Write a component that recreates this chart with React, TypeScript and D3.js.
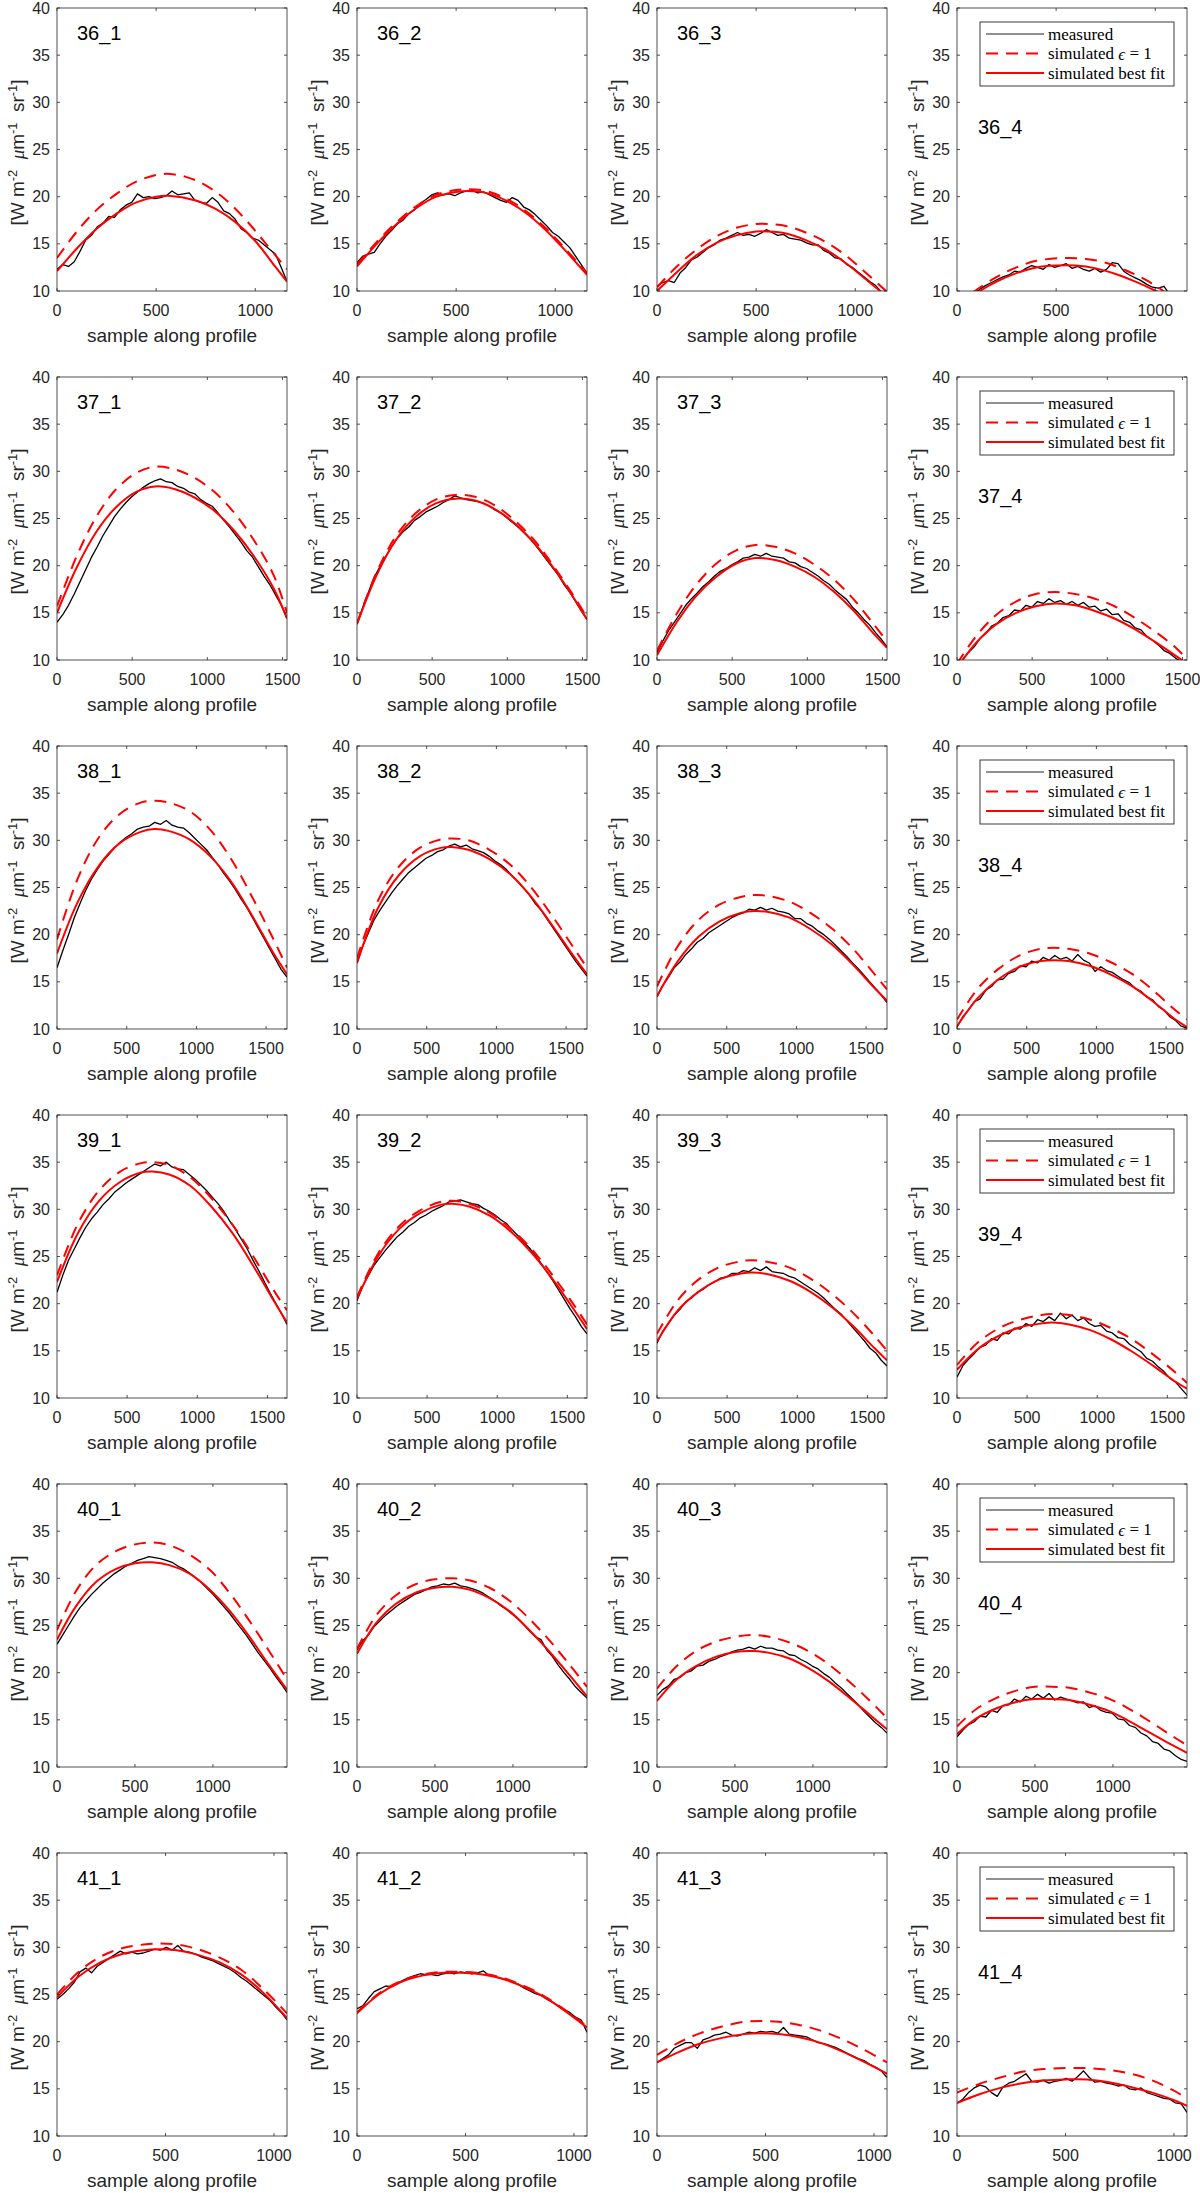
import * as d3 from 'd3';

type Pt = [number, number];

// profile ids (rows) and sample count along each profile
const rowIds = ['36', '37', '38', '39', '40', '41'];
const rowXMax = [1160, 1530, 1650, 1640, 1475, 1060];
const xTicks = [0, 500, 1000, 1500];
const yTicks = [10, 15, 20, 25, 30, 35, 40];
const MEAS_STEPS = 40; // measured values are given at 41 evenly spaced samples

// ---- row 36 ----
const meas36 = [
  [12.3, 12.8, 12.6, 13.1, 14.2, 15.4, 15.9, 16.8, 17.2, 17.9, 17.8, 18.6, 19.1, 19.4, 20.3, 19.9, 20.0, 19.8, 19.9, 20.1, 20.6, 20.2, 20.3, 20.4, 19.6, 19.4, 19.3, 19.9, 19.4, 18.5, 18.2, 17.6, 16.6, 16.2, 15.6, 15.4, 14.9, 14.4, 13.9, 12.5, 11.0],
  [13.0, 13.7, 13.9, 14.1, 15.0, 15.8, 16.4, 17.1, 17.5, 18.2, 18.6, 19.3, 19.7, 20.2, 20.4, 20.2, 20.3, 20.1, 20.4, 20.6, 20.7, 20.4, 20.5, 20.2, 19.9, 19.6, 19.4, 19.9, 19.6, 18.9, 18.6, 18.1, 17.5, 16.9, 16.2, 15.8, 15.2, 14.6, 13.7, 12.8, 11.9],
  [10.5, 10.9, 11.1, 10.9, 11.9, 12.5, 13.3, 13.6, 14.1, 14.6, 14.9, 15.4, 15.6, 15.9, 16.2, 15.9, 16.0, 15.8, 16.1, 16.5, 16.2, 15.9, 16.0, 15.6, 15.5, 15.4, 15.1, 14.9, 14.9, 14.3, 14.0, 13.5, 13.4, 12.8, 12.5, 12.0, 11.5, 11.0, 10.6, 9.9, 9.2],
  [8.5, 8.9, 9.3, 9.7, 10.2, 10.6, 10.9, 11.2, 11.5, 11.7, 12.1, 12.0, 12.4, 12.7, 12.5, 12.3, 12.8, 12.5, 12.7, 12.9, 12.4, 12.6, 12.3, 12.1, 12.4, 12.0, 12.3, 13.0, 12.9, 12.1, 11.7, 11.4, 11.1, 10.7, 10.4, 10.3, 10.5, 9.6, 9.0, 8.5, 8.0],
];
const fit36: Pt[][] = [
  [[0, 12.1], [100, 14.5], [200, 16.6], [300, 18.2], [400, 19.4], [500, 20.0], [560, 20.1], [700, 19.6], [800, 18.7], [900, 17.3], [1000, 15.3], [1100, 12.6], [1160, 11.0]],
  [[0, 12.6], [100, 15.0], [200, 17.1], [300, 18.8], [400, 20.0], [500, 20.5], [560, 20.6], [650, 20.4], [750, 19.6], [850, 18.3], [950, 16.5], [1050, 14.3], [1160, 11.7]],
  [[0, 10.0], [100, 12.0], [200, 13.8], [300, 15.1], [400, 15.9], [500, 16.3], [560, 16.3], [650, 16.1], [750, 15.4], [850, 14.4], [950, 13.0], [1050, 11.3], [1160, 9.4]],
  [[0, 8.3], [115, 10.0], [200, 11.0], [300, 11.9], [400, 12.5], [500, 12.7], [600, 12.7], [700, 12.4], [800, 11.8], [900, 11.0], [1003, 10.0], [1100, 8.9]],
];
const eps36: Pt[][] = [
  [[0, 13.5], [100, 16.3], [200, 18.6], [300, 20.3], [400, 21.6], [530, 22.4], [650, 22.1], [750, 21.2], [850, 19.7], [950, 17.6], [1050, 15.1], [1160, 12.3]],
  [[0, 12.8], [100, 15.2], [200, 17.3], [300, 19.0], [400, 20.2], [500, 20.7], [560, 20.8], [650, 20.6], [750, 19.8], [850, 18.5], [950, 16.7], [1050, 14.5], [1160, 11.9]],
  [[0, 10.4], [100, 12.6], [200, 14.4], [300, 15.8], [400, 16.7], [500, 17.1], [560, 17.1], [650, 16.9], [750, 16.2], [850, 15.2], [950, 13.8], [1050, 12.0], [1160, 9.9]],
  [[0, 8.6], [90, 10.0], [200, 11.5], [300, 12.5], [400, 13.2], [540, 13.5], [650, 13.4], [750, 13.0], [850, 12.2], [950, 11.2], [1041, 10.0], [1160, 8.2]],
];

// ---- row 37 ----
const meas37 = [
  [14.0, 14.8, 15.8, 17.0, 18.3, 19.6, 20.9, 22.0, 23.2, 24.2, 25.2, 26.0, 26.7, 27.3, 27.8, 28.3, 28.7, 29.0, 29.2, 28.9, 28.8, 28.4, 28.2, 27.8, 27.6, 27.0, 26.6, 26.3, 25.6, 24.8, 24.1, 23.3, 22.5, 21.6, 20.9, 19.9, 18.9, 18.0, 16.9, 15.8, 14.4],
  [13.8, 15.6, 17.2, 18.8, 19.9, 21.0, 22.0, 22.9, 23.6, 24.1, 24.8, 25.2, 25.7, 26.0, 26.3, 26.7, 27.0, 27.4, 27.2, 27.0, 26.9, 26.8, 26.6, 26.3, 25.9, 25.6, 25.1, 24.6, 24.1, 23.5, 22.9, 22.2, 21.4, 20.6, 19.8, 19.0, 18.0, 17.2, 16.2, 15.2, 14.3],
  [10.8, 12.0, 13.1, 14.0, 14.9, 15.8, 16.5, 17.1, 17.8, 18.3, 18.9, 19.4, 19.7, 20.1, 20.4, 20.8, 20.9, 21.2, 21.0, 21.3, 21.0, 20.9, 20.8, 20.4, 20.3, 19.9, 19.7, 19.3, 18.9, 18.4, 18.0, 17.4, 16.9, 16.4, 15.6, 15.0, 14.3, 13.7, 12.9, 12.2, 11.4],
  [9.4, 10.0, 10.8, 11.4, 12.3, 12.8, 13.6, 13.9, 14.5, 14.7, 15.3, 15.2, 15.8, 15.6, 16.2, 16.0, 16.5, 16.1, 16.3, 15.9, 16.2, 15.8, 16.1, 15.6, 15.7, 15.2, 15.4, 14.8, 14.9, 14.2, 14.0, 13.4, 13.2, 12.5, 12.1, 11.6, 11.0, 10.7, 10.2, 9.8, 9.5],
];
const fit37: Pt[][] = [
  [[0, 15.0], [131, 19.8], [262, 23.6], [393, 26.2], [524, 27.8], [655, 28.4], [786, 28.1], [917, 27.2], [1048, 25.8], [1179, 23.7], [1310, 21.0], [1441, 17.6], [1530, 14.4]],
  [[0, 13.8], [131, 19.0], [262, 22.8], [393, 25.2], [524, 26.6], [655, 27.1], [786, 26.9], [917, 26.0], [1048, 24.5], [1179, 22.4], [1310, 19.7], [1441, 16.6], [1530, 14.3]],
  [[0, 10.5], [131, 14.0], [262, 16.8], [393, 18.8], [524, 20.2], [655, 20.8], [786, 20.6], [917, 19.9], [1048, 18.8], [1179, 17.2], [1310, 15.2], [1441, 12.8], [1530, 11.3]],
  [[0, 9.2], [131, 11.9], [262, 13.8], [393, 15.0], [524, 15.7], [655, 16.0], [786, 15.8], [917, 15.2], [1048, 14.4], [1179, 13.3], [1310, 12.0], [1441, 10.6], [1530, 9.6]],
];
const eps37: Pt[][] = [
  [[0, 15.7], [131, 21.0], [262, 25.2], [393, 28.1], [524, 29.8], [655, 30.5], [786, 30.2], [917, 29.3], [1048, 27.8], [1179, 25.6], [1310, 22.7], [1441, 19.0], [1530, 15.0]],
  [[0, 13.9], [131, 19.3], [262, 23.2], [393, 25.6], [524, 27.0], [655, 27.5], [786, 27.3], [917, 26.4], [1048, 24.8], [1179, 22.7], [1310, 19.9], [1441, 16.8], [1530, 14.5]],
  [[0, 11.0], [131, 14.9], [262, 18.0], [393, 20.2], [524, 21.6], [655, 22.2], [786, 22.0], [917, 21.3], [1048, 20.1], [1179, 18.5], [1310, 16.4], [1441, 13.8], [1530, 12.0]],
  [[0, 9.6], [131, 12.6], [262, 14.8], [393, 16.2], [524, 17.0], [655, 17.2], [786, 17.0], [917, 16.5], [1048, 15.7], [1179, 14.5], [1310, 13.1], [1441, 11.5], [1530, 10.1]],
];

// ---- row 38 ----
const meas38 = [
  [16.5, 18.3, 20.0, 21.8, 23.3, 24.7, 25.9, 26.9, 27.8, 28.5, 29.2, 29.8, 30.3, 30.7, 31.2, 31.4, 31.5, 31.9, 31.7, 32.1, 31.6, 31.4, 31.3, 30.8, 30.2, 29.6, 29.0, 28.2, 27.4, 26.5, 25.7, 24.8, 23.8, 22.9, 21.8, 20.7, 19.6, 18.5, 17.4, 16.3, 15.5],
  [17.0, 18.8, 20.2, 21.6, 22.6, 23.5, 24.4, 25.2, 25.9, 26.6, 27.1, 27.6, 28.1, 28.4, 28.8, 29.0, 29.4, 29.6, 29.3, 29.5, 29.1, 28.9, 28.7, 28.3, 27.8, 27.4, 26.9, 26.2, 25.6, 24.9, 24.2, 23.3, 22.6, 21.7, 20.8, 19.9, 19.0, 18.1, 17.2, 16.4, 15.6],
  [13.4, 14.6, 15.5, 16.5, 17.1, 17.9, 18.5, 19.2, 19.6, 20.2, 20.6, 21.0, 21.4, 21.8, 22.1, 22.3, 22.7, 22.6, 22.9, 22.6, 22.8, 22.5, 22.4, 22.2, 21.7, 21.7, 21.2, 20.9, 20.4, 20.0, 19.5, 18.9, 18.3, 17.7, 17.0, 16.4, 15.7, 15.0, 14.3, 13.6, 12.8],
  [10.2, 11.3, 12.0, 12.9, 13.2, 14.1, 14.5, 15.2, 15.3, 15.9, 16.1, 16.7, 16.6, 17.2, 17.0, 17.6, 17.3, 17.8, 17.4, 17.6, 17.2, 17.9, 17.3, 17.0, 16.1, 16.6, 16.2, 16.0, 15.6, 15.2, 14.9, 14.3, 14.0, 13.4, 13.1, 12.4, 12.0, 11.3, 10.9, 10.3, 10.1],
];
const fit38: Pt[][] = [
  [[0, 18.0], [150, 23.5], [300, 27.3], [450, 29.7], [600, 30.9], [700, 31.2], [800, 31.0], [950, 30.1], [1100, 28.3], [1250, 25.6], [1400, 22.0], [1550, 18.1], [1650, 15.8]],
  [[0, 17.0], [150, 22.8], [300, 26.3], [450, 28.3], [600, 29.2], [680, 29.3], [800, 29.0], [950, 28.0], [1100, 26.4], [1250, 24.0], [1400, 21.0], [1550, 17.8], [1650, 15.8]],
  [[0, 13.5], [150, 17.2], [300, 19.8], [450, 21.4], [600, 22.3], [700, 22.5], [800, 22.4], [950, 21.8], [1100, 20.6], [1250, 19.0], [1400, 16.9], [1550, 14.5], [1650, 13.0]],
  [[0, 10.3], [150, 13.3], [300, 15.3], [450, 16.6], [600, 17.2], [700, 17.3], [800, 17.2], [950, 16.7], [1100, 15.8], [1250, 14.6], [1400, 13.0], [1550, 11.2], [1650, 10.2]],
];
const eps38: Pt[][] = [
  [[0, 19.5], [150, 26.0], [300, 30.3], [450, 32.8], [600, 34.0], [700, 34.2], [800, 34.0], [950, 33.1], [1100, 31.1], [1250, 28.0], [1400, 24.0], [1550, 19.6], [1650, 16.5]],
  [[0, 17.5], [150, 23.6], [300, 27.2], [450, 29.2], [600, 30.1], [680, 30.2], [800, 30.0], [950, 29.0], [1100, 27.4], [1250, 25.0], [1400, 22.0], [1550, 18.7], [1650, 16.5]],
  [[0, 14.5], [150, 18.8], [300, 21.6], [450, 23.2], [600, 24.0], [700, 24.2], [800, 24.1], [950, 23.5], [1100, 22.3], [1250, 20.7], [1400, 18.6], [1550, 16.0], [1650, 14.2]],
  [[0, 11.0], [150, 14.3], [300, 16.4], [450, 17.8], [600, 18.5], [700, 18.6], [800, 18.5], [950, 18.0], [1100, 17.1], [1250, 15.9], [1400, 14.2], [1550, 12.2], [1650, 11.0]],
];

// ---- row 39 ----
const meas39 = [
  [21.2, 23.0, 24.6, 25.8, 27.0, 28.1, 29.0, 29.7, 30.5, 31.1, 31.8, 32.3, 32.8, 33.2, 33.6, 34.0, 34.4, 34.8, 34.6, 35.0, 34.5, 34.3, 34.2, 33.7, 33.2, 32.6, 32.0, 31.3, 30.6, 29.8, 28.8, 27.9, 26.9, 25.9, 24.7, 23.6, 22.4, 21.2, 20.1, 19.0, 17.8],
  [20.3, 21.9, 23.0, 24.1, 24.9, 25.7, 26.4, 27.1, 27.6, 28.2, 28.6, 29.1, 29.4, 29.8, 30.1, 30.4, 30.8, 30.9, 31.0, 30.8, 30.6, 30.5, 30.1, 29.8, 29.4, 28.9, 28.5, 27.8, 27.2, 26.5, 25.9, 25.1, 24.3, 23.4, 22.5, 21.5, 20.5, 19.5, 18.6, 17.6, 16.8],
  [15.8, 17.1, 17.9, 18.8, 19.4, 20.2, 20.6, 21.2, 21.5, 22.0, 22.3, 22.7, 22.8, 23.2, 23.2, 23.5, 23.4, 23.8, 23.5, 23.9, 23.4, 23.3, 23.2, 22.9, 22.7, 22.3, 21.9, 21.5, 21.1, 20.6, 20.0, 19.4, 18.9, 18.2, 17.5, 16.8, 16.1, 15.3, 14.8, 14.0, 13.4],
  [12.2, 13.4, 14.1, 14.7, 15.4, 15.6, 16.3, 16.1, 16.9, 16.8, 17.4, 17.3, 17.9, 17.6, 18.3, 18.1, 18.6, 18.2, 19.0, 18.4, 18.8, 18.2, 18.5, 17.9, 17.6, 17.7, 17.1, 16.9, 16.4, 16.3, 15.7, 15.3, 14.9, 14.2, 13.9, 13.3, 12.8, 12.1, 11.7, 11.0, 10.3],
];
const fit39: Pt[][] = [
  [[0, 22.3], [150, 27.5], [300, 30.9], [450, 32.9], [600, 33.9], [680, 34.0], [800, 33.7], [950, 32.5], [1100, 30.3], [1250, 27.5], [1400, 24.0], [1550, 20.2], [1640, 18.0]],
  [[0, 20.5], [150, 25.0], [300, 27.9], [450, 29.6], [600, 30.5], [680, 30.6], [800, 30.3], [950, 29.3], [1100, 27.6], [1250, 25.3], [1400, 22.5], [1550, 19.3], [1640, 17.3]],
  [[0, 16.0], [150, 19.3], [300, 21.3], [450, 22.6], [600, 23.2], [680, 23.3], [800, 23.1], [950, 22.4], [1100, 21.2], [1250, 19.6], [1400, 17.6], [1550, 15.3], [1640, 14.0]],
  [[0, 13.0], [150, 15.2], [300, 16.6], [450, 17.5], [600, 17.9], [680, 18.0], [800, 17.8], [950, 17.2], [1100, 16.2], [1250, 14.9], [1400, 13.4], [1550, 11.8], [1640, 11.0]],
];
const eps39: Pt[][] = [
  [[0, 23.0], [150, 28.5], [300, 32.0], [450, 34.0], [600, 34.9], [680, 35.0], [800, 34.7], [950, 33.4], [1100, 31.2], [1250, 28.4], [1400, 25.0], [1550, 21.3], [1640, 19.3]],
  [[0, 20.7], [150, 25.3], [300, 28.2], [450, 29.9], [600, 30.8], [680, 30.9], [800, 30.6], [950, 29.6], [1100, 27.9], [1250, 25.7], [1400, 22.9], [1550, 19.8], [1640, 17.8]],
  [[0, 16.8], [150, 20.4], [300, 22.6], [450, 23.9], [600, 24.5], [680, 24.6], [800, 24.4], [950, 23.8], [1100, 22.6], [1250, 21.0], [1400, 19.0], [1550, 16.6], [1640, 15.0]],
  [[0, 13.5], [150, 15.9], [300, 17.4], [450, 18.3], [600, 18.8], [680, 18.9], [800, 18.8], [950, 18.3], [1100, 17.4], [1250, 16.2], [1400, 14.6], [1550, 12.8], [1640, 11.6]],
];

// ---- row 40 ----
const meas40 = [
  [23.0, 24.0, 25.0, 26.0, 26.9, 27.6, 28.3, 28.9, 29.5, 30.0, 30.5, 30.9, 31.3, 31.6, 31.9, 32.1, 32.3, 32.2, 32.1, 31.9, 31.7, 31.3, 31.0, 30.6, 30.1, 29.6, 29.0, 28.4, 27.7, 27.0, 26.3, 25.5, 24.7, 23.9, 23.0, 22.1, 21.3, 20.5, 19.6, 18.8, 17.9],
  [22.4, 23.4, 24.0, 24.9, 25.5, 26.1, 26.6, 27.1, 27.5, 27.9, 28.3, 28.5, 28.8, 29.1, 29.2, 29.4, 29.3, 29.5, 29.2, 29.1, 28.9, 28.7, 28.4, 28.0, 27.6, 27.1, 26.7, 26.2, 25.7, 25.1, 24.4, 23.8, 23.5, 22.4, 21.7, 20.8, 20.0, 19.3, 18.5, 17.9, 17.3],
  [17.6, 18.2, 18.6, 19.3, 19.5, 20.0, 20.2, 20.7, 20.8, 21.2, 21.4, 21.7, 21.9, 22.2, 22.4, 22.5, 22.7, 22.5, 22.8, 22.6, 22.6, 22.4, 22.3, 21.9, 21.8, 21.4, 21.1, 20.7, 20.4, 19.9, 19.5, 18.9, 18.4, 17.8, 17.2, 16.6, 15.9, 15.3, 14.7, 14.2, 13.6],
  [13.2, 13.9, 14.5, 14.8, 15.4, 15.3, 16.0, 15.8, 16.5, 16.6, 17.2, 16.9, 17.5, 17.2, 17.7, 17.3, 17.8, 17.1, 17.4, 17.2, 17.0, 16.8, 16.9, 16.3, 16.5, 16.0, 15.8, 15.7, 15.1, 15.0, 14.4, 14.2, 13.6, 13.3, 12.7, 12.5, 11.9, 11.7, 11.2, 10.8, 10.6],
];
const fit40: Pt[][] = [
  [[0, 23.5], [120, 27.0], [250, 29.6], [380, 31.0], [500, 31.6], [610, 31.7], [720, 31.4], [850, 30.5], [980, 28.8], [1100, 26.7], [1230, 23.9], [1360, 20.8], [1475, 18.2]],
  [[0, 22.0], [120, 25.2], [250, 27.3], [380, 28.5], [500, 29.0], [610, 29.1], [720, 28.8], [850, 27.9], [980, 26.5], [1100, 24.6], [1230, 22.3], [1360, 19.8], [1475, 17.5]],
  [[0, 17.0], [120, 19.2], [250, 20.7], [380, 21.7], [500, 22.2], [610, 22.3], [720, 22.1], [850, 21.5], [980, 20.4], [1100, 19.1], [1230, 17.4], [1360, 15.6], [1475, 14.0]],
  [[0, 13.5], [120, 15.1], [250, 16.2], [380, 16.9], [500, 17.2], [610, 17.2], [720, 17.1], [850, 16.6], [980, 15.9], [1100, 14.9], [1230, 13.7], [1360, 12.5], [1475, 11.5]],
];
const eps40: Pt[][] = [
  [[0, 24.5], [120, 28.6], [250, 31.4], [380, 32.9], [500, 33.6], [610, 33.8], [720, 33.5], [850, 32.5], [980, 30.9], [1100, 28.6], [1230, 25.6], [1360, 22.3], [1475, 19.3]],
  [[0, 22.5], [120, 26.0], [250, 28.2], [380, 29.4], [500, 29.9], [610, 30.0], [720, 29.8], [850, 29.0], [980, 27.6], [1100, 25.8], [1230, 23.5], [1360, 20.9], [1475, 18.5]],
  [[0, 18.3], [120, 20.6], [250, 22.3], [380, 23.3], [500, 23.8], [610, 24.0], [720, 23.8], [850, 23.2], [980, 22.2], [1100, 20.9], [1230, 19.1], [1360, 17.1], [1475, 15.2]],
  [[0, 14.3], [120, 16.1], [250, 17.3], [380, 18.1], [500, 18.5], [610, 18.5], [720, 18.4], [850, 17.9], [980, 17.2], [1100, 16.2], [1230, 14.9], [1360, 13.5], [1475, 12.3]],
];

// ---- row 41 ----
const meas41 = [
  [24.5, 25.0, 25.6, 26.3, 27.4, 27.8, 27.3, 28.0, 28.4, 28.8, 29.2, 29.6, 29.3, 29.5, 29.3, 29.4, 29.6, 29.8, 29.7, 30.0, 29.7, 30.2, 29.6, 29.5, 29.3, 29.0, 28.8, 28.6, 28.3, 28.0, 27.7, 27.3, 26.8, 26.4, 25.9, 25.4, 24.9, 24.4, 23.7, 23.1, 22.3],
  [23.5, 23.8, 24.6, 25.3, 25.6, 25.9, 25.8, 26.2, 26.5, 26.8, 27.0, 27.2, 27.1, 27.1, 27.0, 27.2, 27.3, 27.2, 27.4, 27.3, 27.2, 27.3, 27.5, 27.0, 26.9, 26.7, 26.6, 26.3, 26.1, 25.7, 25.4, 25.1, 24.9, 24.5, 24.2, 23.8, 23.4, 23.1, 22.6, 22.3, 21.0],
  [17.8, 18.2, 18.6, 19.3, 19.6, 19.9, 19.9, 19.3, 20.2, 20.4, 20.7, 20.8, 21.0, 20.7, 20.6, 20.8, 21.0, 20.9, 21.1, 21.0, 21.1, 20.9, 21.5, 20.8, 20.7, 20.6, 20.5, 20.2, 19.9, 19.8, 19.6, 19.4, 19.1, 18.8, 18.5, 18.2, 18.0, 17.6, 17.3, 16.9, 16.2],
  [13.5, 13.9, 14.6, 15.1, 15.4, 15.2, 14.6, 14.2, 15.2, 15.6, 15.8, 16.2, 16.6, 15.8, 15.7, 15.9, 15.6, 15.8, 15.9, 16.1, 15.8, 16.3, 16.9, 16.2, 15.7, 15.8, 15.6, 15.5, 15.3, 15.4, 15.0, 14.9, 15.1, 14.6, 14.4, 14.2, 14.0, 13.9, 13.5, 13.4, 12.5],
];
const fit41: Pt[][] = [
  [[0, 24.7], [100, 26.9], [200, 28.4], [300, 29.3], [400, 29.7], [470, 29.8], [550, 29.7], [650, 29.2], [750, 28.4], [850, 27.1], [950, 25.2], [1060, 22.5]],
  [[0, 23.0], [100, 25.0], [200, 26.3], [300, 27.0], [400, 27.3], [470, 27.3], [550, 27.2], [650, 26.8], [750, 26.0], [850, 24.9], [950, 23.4], [1060, 21.5]],
  [[0, 17.8], [100, 18.9], [200, 19.8], [300, 20.4], [400, 20.8], [480, 20.9], [560, 20.8], [650, 20.5], [750, 19.9], [850, 19.0], [950, 17.9], [1060, 16.6]],
  [[0, 13.5], [100, 14.4], [200, 15.1], [300, 15.6], [400, 15.9], [500, 16.0], [600, 16.0], [700, 15.7], [800, 15.2], [900, 14.6], [1000, 13.8], [1060, 13.2]],
];
const eps41: Pt[][] = [
  [[0, 25.0], [100, 27.4], [200, 29.0], [300, 29.9], [400, 30.3], [470, 30.4], [550, 30.3], [650, 29.8], [750, 28.9], [850, 27.6], [950, 25.6], [1060, 23.0]],
  [[0, 23.1], [100, 25.1], [200, 26.4], [300, 27.1], [400, 27.4], [470, 27.4], [550, 27.3], [650, 26.9], [750, 26.1], [850, 25.0], [950, 23.5], [1060, 21.6]],
  [[0, 18.6], [100, 19.9], [200, 20.9], [300, 21.6], [400, 22.1], [480, 22.2], [560, 22.1], [650, 21.8], [750, 21.2], [850, 20.3], [950, 19.2], [1060, 17.8]],
  [[0, 14.6], [100, 15.5], [200, 16.2], [300, 16.8], [400, 17.1], [500, 17.2], [600, 17.2], [700, 17.0], [800, 16.6], [900, 15.9], [1000, 14.8], [1060, 14.0]],
];

const measRows = [meas36, meas37, meas38, meas39, meas40, meas41];
const fitRows = [fit36, fit37, fit38, fit39, fit40, fit41];
const epsRows = [eps36, eps37, eps38, eps39, eps40, eps41];

// layout
const W = 1200;
const H = 2193;
const PL = 57;
const PT = 8;
const PW = 230;
const PH = 283;
const DX = 300;
const DY = 369;
const TICK = 3;

const SANS = '"Liberation Sans", Arial, Helvetica, sans-serif';
const SERIF = '"Liberation Serif", "Times New Roman", serif';
const AX = '#262626';
const RED = '#ff0000';
const DASH = '12,8';

const NB = '\u00a0';

function YLabel() {
  return (
    <text
      transform={`translate(-33,${PH / 2 + 3}) rotate(-90)`}
      textAnchor="middle"
      fontFamily={SANS}
      fontSize={19}
      fill={AX}
      textLength={146}
      lengthAdjust="spacing"
    >
      <tspan>[W m</tspan>
      <tspan dy={-7} fontSize={13}>-2</tspan>
      <tspan dy={7}>{NB}{NB}</tspan>
      <tspan fontFamily={SERIF} fontStyle="italic">μ</tspan>
      <tspan>m</tspan>
      <tspan dy={-7} fontSize={13}>-1</tspan>
      <tspan dy={7}>{NB}{NB}sr</tspan>
      <tspan dy={-7} fontSize={13}>-1</tspan>
      <tspan dy={7}>]</tspan>
    </text>
  );
}

function Legend() {
  const bx = 23, by = 14, bw = 194, bh = 64;
  const rows = [26, 45.5, 65];
  return (
    <g>
      <rect x={bx} y={by} width={bw} height={bh} fill="#fff" stroke={AX} strokeWidth={0.9} />
      <line x1={29} x2={87} y1={rows[0]} y2={rows[0]} stroke="#222" strokeWidth={1} />
      <line x1={29} x2={87} y1={rows[1]} y2={rows[1]} stroke={RED} strokeWidth={2} strokeDasharray={DASH} />
      <line x1={29} x2={87} y1={rows[2]} y2={rows[2]} stroke={RED} strokeWidth={2} />
      <g fontFamily={SERIF} fontSize={17} fill="#000">
        <text x={91} y={rows[0]} dominantBaseline="central">measured</text>
        <text x={91} y={rows[1]} dominantBaseline="central">
          simulated <tspan fontStyle="italic">ϵ</tspan>{NB}={NB}1
        </text>
        <text x={91} y={rows[2]} dominantBaseline="central">simulated best fit</text>
      </g>
    </g>
  );
}

function Panel({ r, c }: { r: number; c: number }) {
  const xmax = rowXMax[r];
  const xs = d3.scaleLinear().domain([0, xmax]).range([0, PW]);
  const ys = d3.scaleLinear().domain([10, 40]).range([PH, 0]);
  const raw = d3.line<Pt>().x((d) => xs(d[0])).y((d) => ys(d[1]));
  const smooth = d3
    .line<Pt>()
    .x((d) => xs(d[0]))
    .y((d) => ys(d[1]))
    .curve(d3.curveCatmullRom);
  const meas: Pt[] = measRows[r][c].map((v, i) => [(i * xmax) / MEAS_STEPS, v]);
  const clipId = `clip-${r}-${c}`;
  const xt = xTicks.filter((t) => t <= xmax);
  const label = `${rowIds[r]}_${c + 1}`;
  return (
    <g transform={`translate(${PL + c * DX},${PT + r * DY})`}>
      <defs>
        <clipPath id={clipId}>
          <rect x={0} y={0} width={PW} height={PH} />
        </clipPath>
      </defs>
      <g clipPath={`url(#${clipId})`} fill="none" strokeLinejoin="round">
        <path d={raw(meas) ?? ''} stroke="#000" strokeWidth={1.3} />
        <path d={smooth(epsRows[r][c]) ?? ''} stroke={RED} strokeWidth={2} strokeDasharray={DASH} />
        <path d={smooth(fitRows[r][c]) ?? ''} stroke={RED} strokeWidth={2} />
      </g>
      <rect x={0} y={0} width={PW} height={PH} fill="none" stroke={AX} strokeWidth={0.8} />
      <g stroke={AX} strokeWidth={0.8}>
        {yTicks.map((t) => (
          <g key={`y${t}`}>
            <line x1={0} x2={TICK} y1={ys(t)} y2={ys(t)} />
            <line x1={PW - TICK} x2={PW} y1={ys(t)} y2={ys(t)} />
          </g>
        ))}
        {xt.map((t) => (
          <g key={`x${t}`}>
            <line x1={xs(t)} x2={xs(t)} y1={PH} y2={PH - TICK} />
            <line x1={xs(t)} x2={xs(t)} y1={0} y2={TICK} />
          </g>
        ))}
      </g>
      <g fontFamily={SANS} fontSize={16} fill={AX}>
        {yTicks.map((t) => (
          <text key={`yl${t}`} x={-7} y={ys(t)} textAnchor="end" dominantBaseline="central">
            {t}
          </text>
        ))}
        {xt.map((t) => (
          <text key={`xl${t}`} x={xs(t)} y={PH + 24.5} textAnchor="middle">
            {t}
          </text>
        ))}
      </g>
      <text x={PW / 2} y={PH + 51} textAnchor="middle" fontFamily={SANS} fontSize={19} fill={AX}>
        sample along profile
      </text>
      <YLabel />
      <text
        x={c === 3 ? 21 : 20}
        y={c === 3 ? 126 : 32}
        fontFamily={SANS}
        fontSize={20}
        fill="#000"
      >
        {label}
      </text>
      {c === 3 && <Legend />}
    </g>
  );
}

export default function App() {
  return (
    <div style={{ position: 'absolute', left: 0, top: 0, background: '#fff' }}>
      <svg width={W} height={H} viewBox={`0 0 ${W} ${H}`} style={{ display: 'block' }}>
        <rect width={W} height={H} fill="#fff" />
        {rowIds.map((_, r) =>
          [0, 1, 2, 3].map((c) => <Panel key={`${r}-${c}`} r={r} c={c} />)
        )}
      </svg>
    </div>
  );
}
